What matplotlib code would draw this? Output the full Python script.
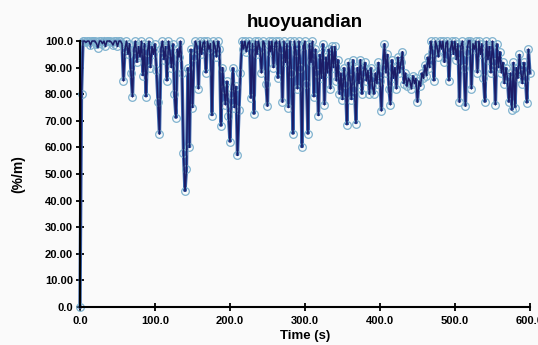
import numpy as np
import matplotlib
matplotlib.use("Agg")
import matplotlib.pyplot as plt
from matplotlib.ticker import FixedLocator, FixedFormatter

# Sampled signal, one value every 2 s from 0 to 600 s
time_s = np.arange(0, 601, 2)
values = [
    0, 80, 100, 100, 99.5, 100, 100, 98.5, 100, 100,
    100, 99, 97.5, 100, 100, 99, 100, 98, 100, 100,
    100, 99.5, 98.5, 100, 100, 98, 100, 100, 99, 85,
    97, 100, 95, 99, 88, 79, 97, 100, 92, 98,
    94, 100, 87, 99, 79, 96, 100, 90, 98, 95,
    99, 89, 77, 65, 97, 100, 93, 98, 85, 100,
    96, 90, 99, 80, 71, 97, 94, 100, 88, 58,
    43.5, 52, 90, 60, 97, 75, 94, 100, 98, 82,
    100, 95, 99, 100, 88, 100, 97, 99, 72, 100,
    98, 94, 100, 97, 68, 90, 82, 76, 85, 72,
    62, 80, 90, 75, 83, 57, 74, 88, 100, 97,
    100, 96, 99, 100, 78.5, 99, 72.5, 100, 95, 100,
    97, 88, 100, 99, 84, 75.5, 100, 96, 100, 90,
    99, 100, 86, 100, 97, 77, 100, 92, 99, 75,
    100, 88, 65, 100, 96, 82, 100, 90, 60, 98,
    100, 84, 65, 99, 92, 100, 79, 97, 88, 72,
    95, 86, 99, 76, 94, 88, 97, 82, 98, 90,
    98, 85, 93, 80, 88, 78, 90, 84, 68.5, 92,
    86, 78, 93, 82, 69, 90, 84, 93, 80, 88,
    92, 85, 89, 80, 90, 83, 80, 88, 84, 92,
    85, 73.7, 90, 99, 88, 95, 82, 76, 93, 86,
    90, 82, 94, 88, 92, 96, 84, 88, 83, 86,
    85, 82, 87, 84, 86, 77, 85, 83, 88, 86,
    91, 87, 94, 90, 100, 96, 85, 100, 98, 94,
    100, 97, 100, 92, 99, 100, 85, 97, 100, 95,
    100, 93, 99, 77, 98, 100, 90, 75.5, 96, 100,
    100, 82, 99, 97, 100, 88, 100, 95, 99, 86,
    77, 100, 93, 98, 88, 100, 92, 76, 99, 90,
    96, 88, 92, 84, 90, 86, 77, 88, 74, 92,
    75, 90, 86, 95, 88, 84, 92, 86, 76.7, 97,
    88,
]

x_ticks = [0, 100, 200, 300, 400, 500, 600]
x_tick_labels = ["0.0", "100.0", "200.0", "300.0", "400.0", "500.0", "600.0"]
y_ticks = [0, 10, 20, 30, 40, 50, 60, 70, 80, 90, 100]
y_tick_labels = ["0.0", "10.00", "20.00", "30.00", "40.00", "50.00",
                 "60.00", "70.00", "80.00", "90.00", "100.0"]

plt.rcParams["font.family"] = ["Liberation Sans", "DejaVu Sans"]

fig = plt.figure(figsize=(5.38, 3.45), dpi=100, facecolor="#fafafa")
ax = fig.add_axes([0.1487, 0.110, 0.8363, 0.771])
ax.set_facecolor("#fafafa")

# wide mid-blue stroke under a dark navy core gives the dense trace
ax.plot(time_s, values, color="#3a68b0", linewidth=2.4, zorder=2,
        clip_on=False, solid_joinstyle="miter")
ax.plot(time_s, values, linestyle="none", marker="o", markersize=5.5,
        markerfacecolor="none", markeredgecolor="#7fb2cf",
        markeredgewidth=0.9, zorder=3, clip_on=False)
ax.plot(time_s, values, color="#1c1c66", linewidth=1.1, zorder=4,
        clip_on=False)

ax.set_xlim(0, 600)
ax.set_ylim(0, 100)

for side in ("top", "right"):
    ax.spines[side].set_visible(False)
for side in ("left", "bottom"):
    ax.spines[side].set_linewidth(1.5)
    ax.spines[side].set_zorder(5)

ax.xaxis.set_major_locator(FixedLocator(x_ticks))
ax.xaxis.set_major_formatter(FixedFormatter(x_tick_labels))
ax.yaxis.set_major_locator(FixedLocator(y_ticks))
ax.yaxis.set_major_formatter(FixedFormatter(y_tick_labels))
ax.tick_params(axis="both", direction="inout", length=6, width=1.3,
               labelsize=8, pad=2)
ax.tick_params(axis="x", pad=3.5)
for lbl in ax.get_xticklabels() + ax.get_yticklabels():
    lbl.set_fontweight("bold")

ax.set_title("huoyuandian", fontsize=13.5, fontweight="bold", pad=10)
ax.set_xlabel("Time (s)", fontsize=9.5, fontweight="bold", labelpad=3)
ax.set_ylabel("(%/m)", fontsize=10, fontweight="bold", labelpad=14)

fig.savefig("out.png", dpi=100, facecolor=fig.get_facecolor())
